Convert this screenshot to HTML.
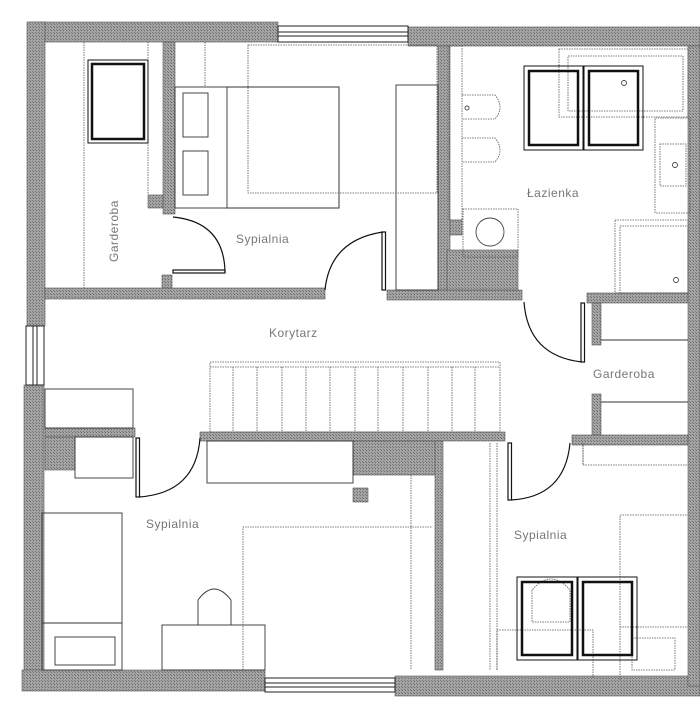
<!DOCTYPE html>
<html><head><meta charset="utf-8"><style>
html,body{margin:0;padding:0;background:#fff;}
svg{display:block;}
text{font-family:"Liberation Sans",sans-serif;font-size:12px;fill:#777;letter-spacing:0.5px;}
</style></head><body>
<svg width="700" height="714" viewBox="0 0 700 714" xmlns="http://www.w3.org/2000/svg">
<defs>
<pattern id="h" width="3" height="3" patternUnits="userSpaceOnUse">
<rect width="3" height="3" fill="#a4a4a4"/><rect width="1" height="1" fill="#6a6a6a"/><rect x="2" y="2" width="1" height="1" fill="#777"/>
</pattern>
</defs>
<g fill="url(#h)" stroke="#555" stroke-width="0.6">
<!-- outer walls -->
<rect x="30" y="22" width="248" height="20"/>
<rect x="408" y="27" width="292" height="19"/>
<rect x="27" y="22" width="18" height="304"/>
<rect x="24" y="385" width="20" height="305"/>
<rect x="22" y="670" width="243" height="21"/>
<rect x="395" y="676" width="305" height="20"/>
<rect x="688" y="46" width="12" height="640"/>
<!-- interior walls -->
<rect x="45" y="288" width="280" height="11"/>
<rect x="163" y="42" width="12" height="172"/>
<rect x="148" y="195" width="15" height="13"/>
<rect x="162" y="275" width="10" height="13"/>
<rect x="438" y="46" width="12" height="244"/>
<rect x="387" y="290" width="135" height="10"/>
<rect x="447" y="250" width="71" height="40"/>
<rect x="450" y="220" width="12" height="15"/>
<rect x="587" y="293" width="101" height="10"/>
<rect x="592" y="303" width="9" height="42"/>
<rect x="592" y="394" width="9" height="41"/>
<rect x="572" y="435" width="116" height="10"/>
<rect x="200" y="432" width="305" height="9"/>
<rect x="45" y="428" width="90" height="9"/>
<rect x="45" y="437" width="30" height="33"/>
<rect x="353" y="441" width="87" height="34"/>
<rect x="435" y="441" width="8" height="229"/>
<rect x="353" y="488" width="15" height="14"/>
</g>
<g fill="#fff" stroke="#222" stroke-width="1">
<!-- windows -->
<rect x="278" y="26" width="130" height="16"/>
<line x1="278" y1="32" x2="408" y2="32"/><line x1="278" y1="36" x2="408" y2="36"/>
<rect x="26" y="326" width="18" height="59"/>
<line x1="33" y1="326" x2="33" y2="385"/><line x1="37" y1="326" x2="37" y2="385"/>
<rect x="265" y="678" width="130" height="14"/>
<line x1="265" y1="683" x2="395" y2="683"/><line x1="265" y1="687" x2="395" y2="687"/>
</g>
<!-- furniture solid -->
<g fill="none" stroke="#333" stroke-width="0.9">
<rect x="183" y="93" width="25" height="44"/>
<rect x="183" y="151" width="25" height="44"/>
<rect x="175" y="87" width="164" height="121"/>
<rect x="227" y="87" width="112" height="121"/>
<rect x="396" y="85" width="42" height="205"/>
<rect x="45" y="389" width="88" height="39"/>
<rect x="75" y="437" width="58" height="41"/>
<rect x="42" y="513" width="80" height="157"/>
<line x1="42" y1="623" x2="122" y2="623"/>
<rect x="55" y="637" width="60" height="28"/>
<rect x="162" y="625" width="103" height="45"/>
<path d="M198 625 V600 Q214 578 231 600 V625"/>
<rect x="207" y="441" width="146" height="42"/>
<line x1="601" y1="340" x2="688" y2="340"/>
<line x1="601" y1="402" x2="688" y2="402"/>
</g>
<!-- dotted -->
<g fill="none" stroke="#555" stroke-width="0.8" stroke-dasharray="1.5,1">
<line x1="84" y1="42" x2="84" y2="288"/>
<line x1="148" y1="42" x2="148" y2="195"/>
<rect x="248" y="45" width="189" height="148"/>
<line x1="205" y1="42" x2="205" y2="87"/>
<rect x="449" y="46" width="13" height="174"/>
<path d="M462 95 H495 Q505 107 495 119 H462"/>
<path d="M462 138 H495 Q505 150 495 162 H462"/>
<rect x="463" y="209" width="55" height="48"/>
<rect x="559" y="49" width="129" height="68"/>
<rect x="568" y="56" width="115" height="55"/>
<rect x="655" y="118" width="35" height="95"/>
<rect x="660" y="144" width="26" height="42"/>
<rect x="615" y="220" width="73" height="73"/>
<rect x="620" y="226" width="68" height="67"/>
<rect x="210" y="362" width="290" height="70"/>
<line x1="210" y1="367" x2="500" y2="367"/>
<line x1="233" y1="367" x2="233" y2="432"/><line x1="257" y1="367" x2="257" y2="432"/>
<line x1="282" y1="367" x2="282" y2="432"/><line x1="306" y1="367" x2="306" y2="432"/>
<line x1="330" y1="367" x2="330" y2="432"/><line x1="355" y1="367" x2="355" y2="432"/>
<line x1="378" y1="367" x2="378" y2="432"/><line x1="403" y1="367" x2="403" y2="432"/>
<line x1="428" y1="367" x2="428" y2="432"/><line x1="452" y1="367" x2="452" y2="432"/>
<line x1="475" y1="367" x2="475" y2="432"/>
<path d="M243 670 V527 H432"/>
<line x1="411" y1="475" x2="411" y2="670"/>
<line x1="490" y1="443" x2="490" y2="670"/>
<line x1="497" y1="443" x2="497" y2="670"/>
<path d="M620 680 V515 H688"/>
<line x1="620" y1="627" x2="688" y2="627"/>
<rect x="632" y="638" width="43" height="32"/>
<path d="M497 670 V630 H593 V678"/>
<path d="M532 590 V622 H570 V590 Q551 568 532 590"/>
<line x1="583" y1="443" x2="583" y2="465"/>
<path d="M583 445 V465 H688"/>
</g>
<g fill="none" stroke="#444" stroke-width="0.9">
<circle cx="490" cy="232" r="14"/>
<circle cx="624" cy="83" r="2.5"/>
<circle cx="675" cy="165" r="2.5"/>
<circle cx="676" cy="280" r="2.5"/>
<circle cx="467" cy="108" r="2"/>
</g>
<!-- skylights -->
<g fill="none" stroke="#111">
<rect x="88" y="60" width="60" height="83" stroke-width="1"/>
<rect x="92" y="64" width="52" height="75" stroke-width="2.5"/>
<rect x="524" y="66" width="59" height="84" stroke-width="1"/>
<rect x="529" y="71" width="49" height="74" stroke-width="2.5"/>
<rect x="584" y="66" width="59" height="84" stroke-width="1"/>
<rect x="589" y="71" width="49" height="74" stroke-width="2.5"/>
<rect x="517" y="577" width="60" height="83" stroke-width="1"/>
<rect x="522" y="582" width="50" height="73" stroke-width="2.5"/>
<rect x="578" y="577" width="59" height="83" stroke-width="1"/>
<rect x="583" y="582" width="49" height="73" stroke-width="2.5"/>
</g>
<!-- doors -->
<g fill="none" stroke="#111" stroke-width="1.2">
<rect x="173" y="270" width="52" height="3"/>
<path d="M173 217 Q224 222 225 272"/>
<rect x="382" y="232" width="3.5" height="58"/>
<path d="M383 232 Q330 240 325 290"/>
<rect x="581" y="303" width="3.5" height="59"/>
<path d="M524 302 Q528 356 582 362"/>
<rect x="136" y="438" width="3.5" height="59"/>
<path d="M200 438 Q196 493 139 497"/>
<rect x="508" y="443" width="3.5" height="57"/>
<path d="M570 443 Q565 497 511 500"/>
</g>
<!-- labels -->
<text x="0" y="0" transform="translate(118,262) rotate(-90)">Garderoba</text>
<text x="236" y="243">Sypialnia</text>
<text x="269" y="337">Korytarz</text>
<text x="527" y="197">Łazienka</text>
<text x="593" y="378">Garderoba</text>
<text x="146" y="528">Sypialnia</text>
<text x="514" y="539">Sypialnia</text>
</svg>
</body></html>
